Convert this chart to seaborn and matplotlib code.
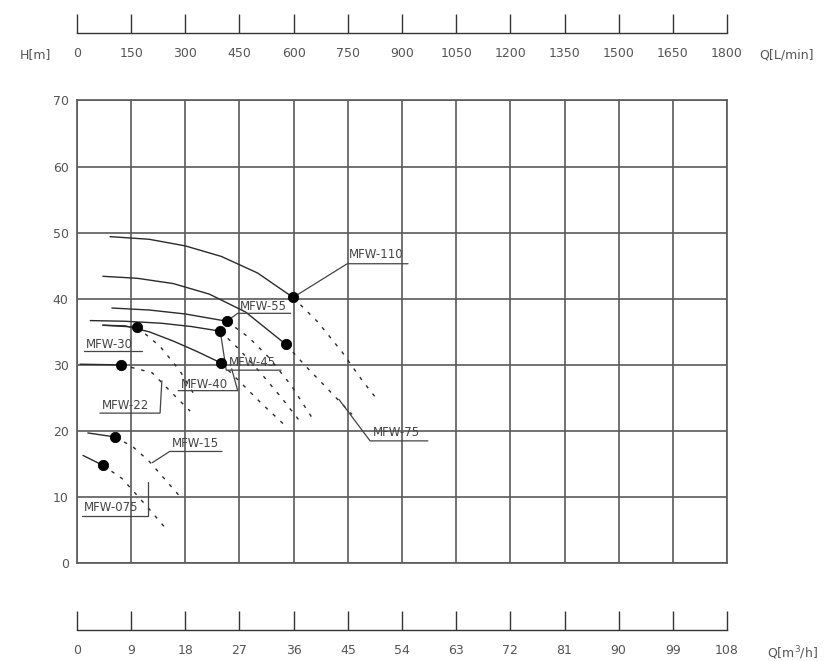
import numpy as np
import matplotlib.pyplot as plt
import pandas as pd
import seaborn as sns

sns.set_theme(style="white")
plt.rcParams['font.family'] = ['DejaVu Sans']

# ==========================================
# 性能曲线数据  Q [m3/h] / H [m]
# 实线段以额定点(黑点)结束，虚线段从额定点开始
# ==========================================
mfw110_q = [5.5, 12.0, 18.0, 24.0, 30.0, 35.9]
mfw110_h = [49.4, 49.0, 48.0, 46.4, 43.9, 40.2]
mfw110_q_ext = [35.9, 40.0, 44.0, 47.5, 49.5]
mfw110_h_ext = [40.2, 36.5, 32.0, 27.5, 25.2]

mfw75_q = [4.3, 10.0, 16.0, 22.0, 28.0, 34.7]
mfw75_h = [43.4, 43.1, 42.3, 40.7, 38.0, 33.1]
mfw75_q_ext = [34.7, 38.0, 41.5, 45.7]
mfw75_h_ext = [33.1, 29.8, 26.5, 22.5]

mfw55_q = [5.8, 12.0, 18.0, 24.9]
mfw55_h = [38.6, 38.3, 37.7, 36.6]
mfw55_q_ext = [24.9, 28.5, 32.0, 35.5, 39.2]
mfw55_h_ext = [36.6, 34.2, 31.0, 27.0, 21.8]

mfw45_q = [2.2, 8.0, 14.0, 19.0, 23.8]
mfw45_h = [36.7, 36.6, 36.3, 35.8, 35.1]
mfw45_q_ext = [23.8, 27.0, 30.5, 34.0, 37.0]
mfw45_h_ext = [35.1, 32.3, 28.8, 25.0, 21.5]

mfw40_q = [4.3, 8.0, 12.0, 16.0, 20.0, 23.9]
mfw40_h = [36.0, 35.9, 35.0, 33.6, 32.0, 30.3]
mfw40_q_ext = [23.9, 27.0, 30.5, 34.6]
mfw40_h_ext = [30.3, 27.5, 24.3, 20.8]

mfw30_q = [4.3, 10.0]
mfw30_h = [36.0, 35.7]
mfw30_q_ext = [10.0, 13.8, 17.1, 19.6]
mfw30_h_ext = [35.7, 32.8, 29.1, 25.3]

mfw22_q = [0.5, 7.3]
mfw22_h = [30.1, 30.0]
mfw22_q_ext = [7.3, 10.0, 12.5, 15.4, 18.8]
mfw22_h_ext = [30.0, 29.4, 28.8, 26.1, 23.0]

mfw15_q = [1.8, 6.3]
mfw15_h = [19.7, 19.1]
mfw15_q_ext = [6.3, 9.3, 12.0, 14.5, 17.0]
mfw15_h_ext = [19.1, 17.6, 15.4, 12.8, 10.2]

mfw075_q = [1.0, 4.3]
mfw075_h = [16.3, 14.8]
mfw075_q_ext = [4.3, 7.5, 11.8, 14.6]
mfw075_h_ext = [14.8, 12.8, 8.4, 5.4]

models = ['MFW-110', 'MFW-75', 'MFW-55', 'MFW-45', 'MFW-40',
          'MFW-30', 'MFW-22', 'MFW-15', 'MFW-075']
solid_q = [mfw110_q, mfw75_q, mfw55_q, mfw45_q, mfw40_q, mfw30_q, mfw22_q, mfw15_q, mfw075_q]
solid_h = [mfw110_h, mfw75_h, mfw55_h, mfw45_h, mfw40_h, mfw30_h, mfw22_h, mfw15_h, mfw075_h]
ext_q = [mfw110_q_ext, mfw75_q_ext, mfw55_q_ext, mfw45_q_ext, mfw40_q_ext,
         mfw30_q_ext, mfw22_q_ext, mfw15_q_ext, mfw075_q_ext]
ext_h = [mfw110_h_ext, mfw75_h_ext, mfw55_h_ext, mfw45_h_ext, mfw40_h_ext,
         mfw30_h_ext, mfw22_h_ext, mfw15_h_ext, mfw075_h_ext]

# 坐标轴刻度
q_m3h_ticks = [0, 9, 18, 27, 36, 45, 54, 63, 72, 81, 90, 99, 108]
q_lmin_ticks = [0, 150, 300, 450, 600, 750, 900, 1050, 1200, 1350, 1500, 1650, 1800]
h_ticks = [0, 10, 20, 30, 40, 50, 60, 70]

# 型号标注: 文字位置 + 下划线/引线折线
labels = {
    'MFW-110': dict(xy=(45.2, 46.7), line=[(55.0, 45.3), (44.9, 45.3), (35.9, 40.2)]),
    'MFW-75':  dict(xy=(49.2, 19.7), line=[(58.3, 18.5), (48.7, 18.5), (43.5, 24.8)]),
    'MFW-55':  dict(xy=(27.1, 38.9), line=[(35.5, 37.8), (26.7, 37.8), (24.9, 36.6)]),
    'MFW-45':  dict(xy=(25.3, 30.3), line=[(33.9, 29.2), (24.8, 29.2), (23.8, 35.1)]),
    'MFW-40':  dict(xy=(17.3, 27.1), line=[(16.8, 26.1), (26.7, 26.1), (25.7, 29.4)]),
    'MFW-30':  dict(xy=(1.5, 33.1), line=[(1.2, 32.1), (10.8, 32.1)]),
    'MFW-22':  dict(xy=(4.2, 23.8), line=[(3.8, 22.7), (13.8, 22.7), (14.1, 27.6)]),
    'MFW-15':  dict(xy=(15.8, 18.1), line=[(24.1, 16.9), (15.4, 16.9), (12.5, 15.2)]),
    'MFW-075': dict(xy=(1.2, 8.4), line=[(0.8, 7.1), (11.8, 7.1), (11.8, 12.3)]),
}

grid_c = '#5a5a5a'
text_c = '#555555'
curve_c = '#2b2b2b'

fig = plt.figure(figsize=(8.27, 6.61), dpi=100)
ax = fig.add_axes([0.0931, 0.148, 0.786, 0.700])

for name, sq, sh, eq, eh in zip(models, solid_q, solid_h, ext_q, ext_h):
    df_s = pd.DataFrame({'Q': sq, 'H': sh})
    df_e = pd.DataFrame({'Q': eq, 'H': eh})
    sns.lineplot(data=df_s, x='Q', y='H', sort=False, ax=ax, color=curve_c, lw=1.0)
    sns.lineplot(data=df_e, x='Q', y='H', sort=False, ax=ax, color=curve_c, lw=1.0,
                 linestyle=(0, (2.5, 5)))

# 额定点
rated = pd.DataFrame({'Q': [q[-1] for q in solid_q], 'H': [h[-1] for h in solid_h]})
sns.scatterplot(data=rated, x='Q', y='H', ax=ax, color='black', s=55,
                edgecolor='black', zorder=5)

for name, d in labels.items():
    ax.text(d['xy'][0], d['xy'][1], name, fontsize=8.5, color='#444444',
            va='center', ha='left')
    lx, ly = zip(*d['line'])
    ax.plot(lx, ly, color='#444444', lw=0.9)

ax.set_xlim(0, 108)
ax.set_ylim(0, 70)
ax.set_xticks(q_m3h_ticks)
ax.set_yticks(h_ticks)
ax.set_xticklabels([])
ax.grid(True, color=grid_c, lw=1.2)
for s in ax.spines.values():
    s.set_color(grid_c)
    s.set_linewidth(1.2)
ax.tick_params(axis='both', length=0, labelsize=9, labelcolor=text_c, pad=6)
ax.set_xlabel('')
ax.set_ylabel('')


def scale_axis(y0, lim, ticks):
    a = fig.add_axes([0.0931, y0, 0.786, 0.02])
    a.set_xlim(*lim)
    a.set_xticks(ticks)
    a.set_yticks([])
    for k in ['top', 'left', 'right']:
        a.spines[k].set_visible(False)
    a.spines['bottom'].set_color('#333333')
    a.spines['bottom'].set_linewidth(1.0)
    a.set_facecolor('none')
    a.tick_params(axis='x', bottom=True, direction='in', length=14, width=1.0,
                  color='#333333', pad=10, labelsize=9, labelcolor=text_c)
    return a


scale_axis(0.950, (0, 1800), q_lmin_ticks)
scale_axis(0.047, (0, 108), q_m3h_ticks)

fig.text(0.024, 1 - 55 / 661, 'H[m]', fontsize=9, color=text_c, va='center')
fig.text(0.918, 1 - 55 / 661, 'Q[L/min]', fontsize=9, color=text_c, va='center')
fig.text(0.928, 1 - 653 / 661, 'Q[m$^3$/h]', fontsize=9, color=text_c, va='center')

fig.savefig('out.png', dpi=100)
